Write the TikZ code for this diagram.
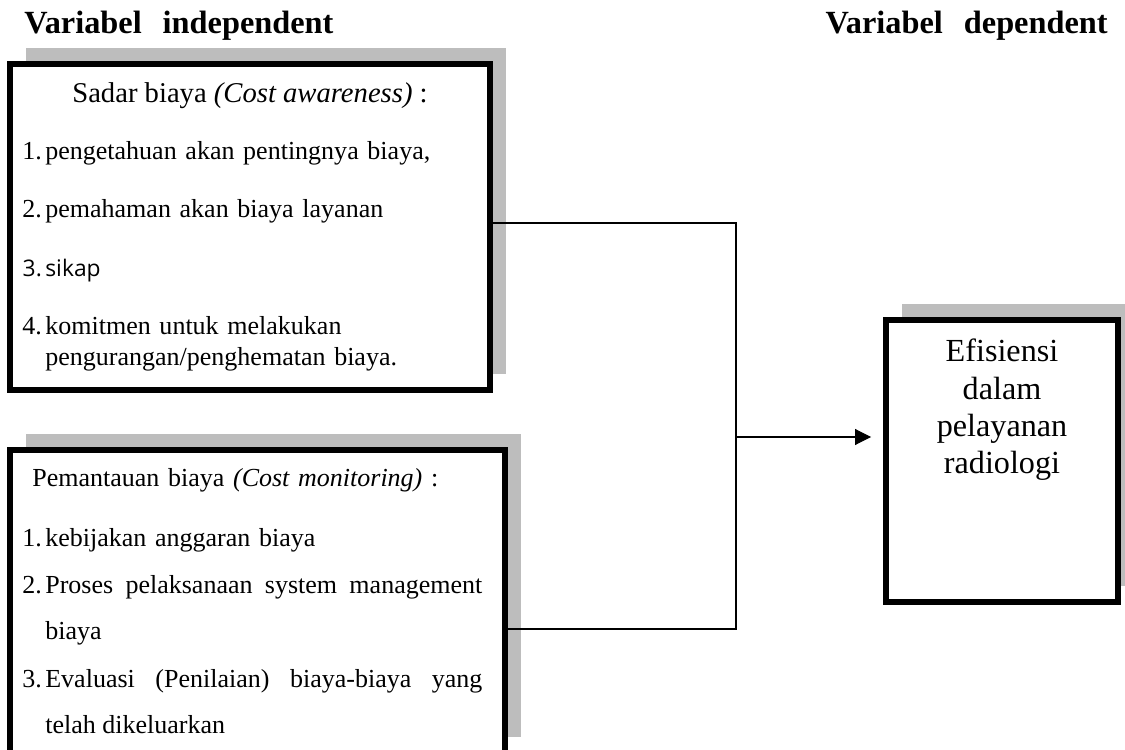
\documentclass[tikz,border=0pt]{standalone}
\usepackage{fontspec}
\setmainfont{Liberation Serif}
\newfontfamily\hurufsans{Open Sans}
\usetikzlibrary{arrows.meta,positioning,shadows}
\definecolor{bayangan}{HTML}{BDBDBD}
\newcommand{\nomor}[1]{\leavevmode\llap{#1\hspace{2pt}}}

\begin{document}
\begin{tikzpicture}[
 kotak/.style={draw,line width=0.12cm,fill=white,inner sep=0pt,drop shadow={shadow xshift=0.32cm,shadow yshift=0.32cm,fill=bayangan,opacity=1}},
 kepala/.style={inner sep=0pt,font=\fontsize{18.4}{21}\selectfont\bfseries},
 judul/.style={inner sep=0pt,font=\fontsize{16.3}{19}\selectfont},
 butir/.style={inner sep=0pt,anchor=base west,text width=8.74cm,align=left,font=\fontsize{14.8}{17.1}\selectfont},
 butirj/.style={butir,align=justify,font=\fontsize{14.8}{26.7}\selectfont},
 garis/.style={line width=0.6pt},
 panah/.style={garis,-{Triangle[length=0.32cm,width=0.32cm]},shorten >=0.24cm}]
\useasboundingbox (0,0) rectangle (22.5,14.98);
\clip (0,0) rectangle (22.5,14.98);

\node[kepala,anchor=base west] (indep) at (0.48,14.30) {Variabel\hspace{0.65em}independent};
\node[kepala,anchor=base east] (dep) at (22.16,14.30) {Variabel\hspace{0.65em}dependent};

\node[kotak,minimum width=9.6cm,minimum height=6.52cm] (sadar) at (5.00,10.44) {};
\node[kotak,minimum width=9.9cm,minimum height=6.06cm] (pantau) at (5.15,2.95) {};
\node[kotak,minimum width=4.64cm,minimum height=5.64cm] (efisiensi) at (20.04,5.76) {};

% sadar biaya
\node[judul,anchor=base] (sadarjudul) at (5.00,12.92) {Sadar biaya \textit{(Cost awareness)} :};
\node[butir] (sadar1) at (0.90,11.78) {\nomor{1.}pengetahuan akan pentingnya biaya,};
\node[butir] (sadar2) at (0.90,10.62) {\nomor{2.}pemahaman akan biaya layanan};
\node[butir,font=\hurufsans\fontsize{13}{15}\selectfont] (sadar3) at (0.90,9.44) {\nomor{3.}sikap};
\node[butir] (sadar4) at (0.90,8.28) {\nomor{4.}komitmen untuk melakukan\\pengurangan/penghematan biaya.};

% pemantauan biaya
\node[butir] (pantaujudul) at (0.64,5.26) {Pemantauan biaya \textit{(Cost monitoring)} :};
\node[butir] (pantau1) at (0.90,4.06) {\nomor{1.}kebijakan anggaran biaya};
\node[butirj] (pantau2) at (0.90,3.12) {\nomor{2.}Proses pelaksanaan system management\linebreak biaya};
\node[butirj] (pantau3) at (0.90,1.24) {\nomor{3.}Evaluasi (Penilaian) biaya-biaya yang\linebreak telah dikeluarkan};

\node[text width=4.4cm,align=center,anchor=base,inner sep=0pt,font=\fontsize{18.3}{21.1}\selectfont] (efisiensiteks) at (20.04,7.74) {Efisiensi\\dalam\\pelayanan\\radiologi};

\coordinate (atas) at (14.72,10.52);
\coordinate (bawah) at (14.72,2.40);
\coordinate (cabang) at (14.72,6.24);
\draw[garis] (sadar.east |- atas) -- (atas) -- (bawah) -- (pantau.east |- bawah);
\draw[panah] (cabang) -- (efisiensi.west |- cabang);
\end{tikzpicture}
\end{document}
